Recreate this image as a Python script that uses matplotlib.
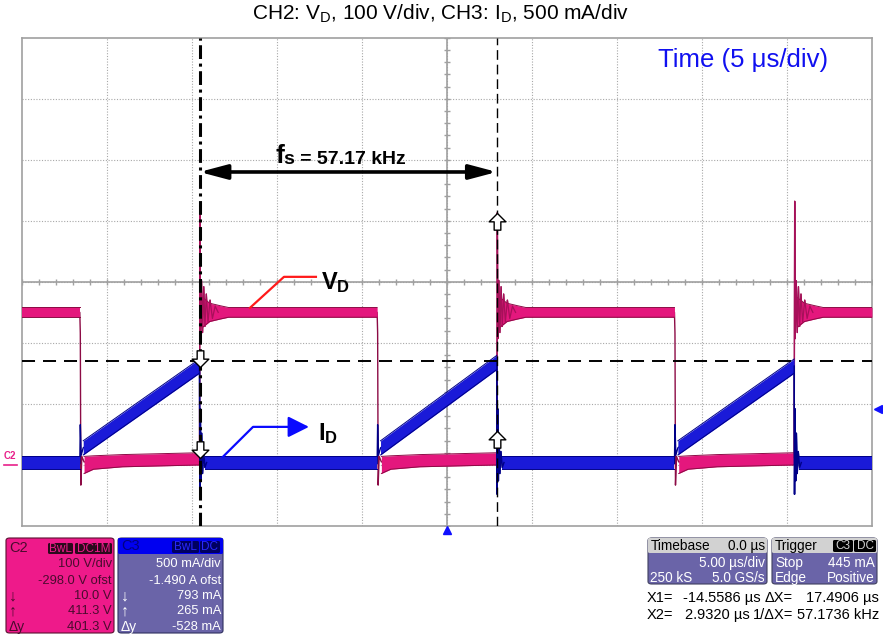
import numpy as np
import matplotlib.pyplot as plt
from matplotlib.patches import FancyBboxPatch
from matplotlib.path import Path
import matplotlib.transforms as mtransforms

plt.rcParams['font.family'] = ['Liberation Sans', 'DejaVu Sans']
plt.rcParams['mathtext.fontset'] = 'custom'
plt.rcParams['mathtext.rm'] = 'Liberation Sans'
plt.rcParams['mathtext.bf'] = 'Liberation Sans:bold'
plt.rcParams['mathtext.it'] = 'Liberation Sans:italic'

W, H = 883, 636

# scope settings
t_div = 5.0                      # us/div
vd_div, vd_ofst = 100.0, -298.0  # V/div, V
id_div, id_ofst = 0.5, -1.490    # A/div, A

# switching instants (us)
t_on = [-21.60, -4.11, 13.38]          # VD falls, ID ramp starts
t_off = [-14.5586, 2.9320, 20.4226]    # VD rises, ID drops
x1, x2 = -14.5586, 2.9320              # cursors

# drain voltage VD (V)
vd_high = 248.0
vd_hw = 8.0
vd_spike = [411.3, 411.3, 430.0]
vd_ring_dt = [0.06, 0.12, 0.18, 0.25, 0.32, 0.40, 0.50, 0.62, 0.76, 0.92, 1.10]
vd_ring_v = [205, 300, 215, 290, 225, 278, 232, 268, 238, 258, 248]
vd_env_dt = [0.2, 0.6, 1.2, 1.7]
vd_env_hw = [24.0, 15.0, 11.0, 8.0]
vd_fall_dt = [0.0, 0.03, 0.06, 0.12, 0.25]
vd_fall_v = [248.0, 214.0, -35.0, 12.0, 3.0]
vd_low_dt = [0.25, 0.8, 2.5, 7.04]
vd_low_hi = [12.0, 13.0, 15.0, 18.0]
vd_low_lo = [-16.0, -9.0, -5.0, -2.0]
vd_low_end = 10.0

# drain current ID (A)
id_zero = 0.01
id_hw = 0.05
id_ramp_hw = 0.058
id_ramp_start = 0.13
id_ramp_end = [0.80, 0.83, 0.80]
id_rise_dt = [0.0, 0.03, 0.08, 0.20]
id_rise_v = [0.0, 0.32, 0.07, 0.13]
id_ring_dt = [0.02, 0.05, 0.09, 0.13, 0.18, 0.24, 0.32, 0.42]
id_ring_v = [-0.25, 0.45, -0.14, 0.25, -0.08, 0.10, -0.03, 0.01]

# cursor readouts / levels
x1_vd, x2_vd = 10.0, 411.3
x1_id, x2_id = 0.793, 0.265
trig_level = 0.445
guide_id = 0.84

pink, maroon = '#E4177D', '#8C0B45'
blue, navy = '#1A1AD8', '#000088'

fig = plt.figure(figsize=(W / 100, H / 100), dpi=100)
ax = fig.add_axes([22 / W, 1 - 526 / H, 850 / W, 488.3 / H])
ax.set_xlim(-5 * t_div, 5 * t_div)
ax.set_ylim(-vd_ofst - 4 * vd_div, -vd_ofst + 4 * vd_div)
ax2 = ax.twinx()
ax2.set_ylim(-id_ofst - 4 * id_div, -id_ofst + 4 * id_div)
for a in (ax, ax2):
    a.set_xticks([])
    a.set_yticks([])
for s in ax.spines.values():
    s.set_color('#A0A0A0')
    s.set_linewidth(1.2)
for s in ax2.spines.values():
    s.set_visible(False)

# graticule
gx = np.arange(-5, 6) * t_div
gy = -vd_ofst + np.arange(-4, 5) * vd_div
ax.vlines(gx[1:-1], *ax.get_ylim(), colors='#A8A8A8', lw=0.8, ls=(0, (1, 1.5)), zorder=1)
ax.hlines(gy[1:-1], *ax.get_xlim(), colors='#A8A8A8', lw=0.8, ls=(0, (1, 1.5)), zorder=1)
ax.axvline(0, color='#A0A0A0', lw=1.2, zorder=1)
ax.axhline(-vd_ofst, color='#A0A0A0', lw=1.2, zorder=1)
tm = np.arange(-25, 26, 1.0)
ax.plot(tm, np.full(tm.size, -vd_ofst), ls='none', marker='|', ms=5, color='#A0A0A0', zorder=1)
vm = -vd_ofst + np.arange(-20, 21) * vd_div / 5
ax.plot(np.zeros(vm.size), vm, ls='none', marker='_', ms=5, color='#A0A0A0', zorder=1)


def band(a, t, lo, hi, face, edge):
    a.fill_between(t, lo, hi, color=face, lw=0, zorder=3)
    a.plot(t, lo, color=edge, lw=0.7, zorder=3)
    a.plot(t, hi, color=edge, lw=0.7, zorder=3)


# ---- VD ----
vd_t, vd_v = [-25.0], [vd_high]
for i in range(3):
    vd_t += [t_on[i] + d for d in vd_fall_dt]
    vd_v += vd_fall_v
    vd_t += [t_off[i], t_off[i] + 0.03]
    vd_v += [vd_low_end, vd_spike[i]]
    vd_t += [t_off[i] + d for d in vd_ring_dt]
    vd_v += vd_ring_v
vd_t.append(25.0)
vd_v.append(vd_high)
ax.plot(vd_t, vd_v, color=maroon, lw=1.0, zorder=2)

band(ax, [-25.0, t_on[0]], [vd_high - vd_hw] * 2, [vd_high + vd_hw] * 2, pink, maroon)
for i in range(3):
    nxt = t_on[i + 1] if i + 1 < len(t_on) else 25.0
    tt = [t_off[i] + d for d in vd_env_dt] + [nxt]
    hw = np.array(vd_env_hw + [vd_hw])
    band(ax, tt, vd_high - hw, vd_high + hw, pink, maroon)
    band(ax, [t_on[i] + d for d in vd_low_dt], vd_low_lo, vd_low_hi, pink, maroon)
    rt = [t_off[i], t_off[i] + 0.03] + [t_off[i] + d for d in vd_ring_dt]
    rv = [vd_low_end, vd_spike[i]] + vd_ring_v
    ax.plot(rt, rv, color='#A8105A', lw=0.9, zorder=4)

# ---- ID ----
id_t, id_v = [-25.0], [id_zero]
for i in range(3):
    id_t += [t_on[i] + d for d in id_rise_dt]
    id_v += id_rise_v
    id_t += [t_off[i]]
    id_v += [id_ramp_end[i]]
    id_t += [t_off[i] + d for d in id_ring_dt]
    id_v += id_ring_v
id_t.append(25.0)
id_v.append(id_zero)
ax2.plot(id_t, id_v, color=navy, lw=1.0, zorder=2)

band(ax2, [-25.0, t_on[0]], [id_zero - id_hw] * 2, [id_zero + id_hw] * 2, blue, navy)
for i in range(3):
    nxt = t_on[i + 1] if i + 1 < len(t_on) else 25.0
    band(ax2, [t_off[i] + 0.3, nxt], [id_zero - id_hw] * 2, [id_zero + id_hw] * 2, blue, navy)
    ramp = np.array([id_ramp_start, id_ramp_end[i]])
    band(ax2, [t_on[i] + 0.2, t_off[i]], ramp - id_ramp_hw, ramp + id_ramp_hw, blue, navy)
    ax2.plot([t_off[i]] + [t_off[i] + d for d in id_ring_dt], [id_ramp_end[i]] + id_ring_v,
             color=navy, lw=1.0, zorder=4)

# ---- cursors and guides ----
ax2.axvline(x1, color='k', lw=2.2, ls=(0, (4.5, 1.5, 1, 1.5)), zorder=5)
ax2.axvline(x2, color='k', lw=1.0, ls=(0, (7, 3.5)), zorder=5)
ax2.axhline(guide_id, color='k', lw=1.4, ls=(0, (6.7, 4.1)), zorder=5)

down = Path([(0, 0), (0.5, 0.5), (0.2, 0.5), (0.2, 1.0), (-0.2, 1.0), (-0.2, 0.5), (-0.5, 0.5), (0, 0)],
            closed=True)
up = Path([(x, -y) for x, y in down.vertices], closed=True)
mk = dict(ls='none', ms=24, mfc='white', mec='black', mew=1.0, zorder=6)
ax2.plot([x1], [x1_vd], marker=down, transform=ax.transData, **mk)
ax2.plot([x1], [x1_id], marker=down, **mk)
ax2.plot([x2], [x2_vd], marker=up, transform=ax.transData, **mk)
ax2.plot([x2], [x2_id], marker=up, **mk)

# switching frequency arrow
ax2.annotate('', xy=(x2, 478), xytext=(x1, 478), xycoords=ax.transData, textcoords=ax.transData,
             arrowprops=dict(arrowstyle='<|-|>,head_length=0.83,head_width=0.22', lw=2.6, color='k',
                             mutation_scale=20, shrinkA=0, shrinkB=0), zorder=6)
ax2.text(-10.06, 493, 'f', transform=ax.transData, fontsize=19, fontweight='bold', ha='left', va='baseline')
ax2.text(-9.59, 491, 's = 57.17 kHz', transform=ax.transData, fontsize=14, fontweight='bold',
         ha='left', va='baseline')

# VD label
ax2.plot([-11.59, -9.59, -7.71], [255.4, 306.2, 306.2], color='#FF1A1A', lw=1.6, transform=ax.transData, zorder=6)
ax2.text(-7.4, 286.5, r'$\mathbf{V_D}$', transform=ax.transData, fontsize=17, ha='left', va='baseline')

# ID label
ax2.plot([-13.18, -11.41, -8.88], [0.057, 0.302, 0.302], color='#0A0AFF', lw=1.6, zorder=6)
ax2.annotate('', xy=(-8.12, 0.302), xytext=(-8.88, 0.302),
             arrowprops=dict(arrowstyle='-|>,head_length=0.8,head_width=0.4', color='#0A0AFF', lw=1.6,
                             mutation_scale=16, shrinkA=0, shrinkB=0), zorder=6)
ax2.text(-7.6, 0.196, r'$\mathbf{I_D}$', fontsize=17, ha='left', va='baseline')

# markers outside the grid
ax2.plot([1.007], [trig_level], marker='<', ms=6, color='#1010FF', ls='none', clip_on=False,
         transform=mtransforms.blended_transform_factory(ax2.transAxes, ax2.transData))
ax2.plot([0], [-0.008], marker='^', ms=6, color='#1010FF', ls='none', clip_on=False,
         transform=mtransforms.blended_transform_factory(ax2.transData, ax2.transAxes))
c2tr = mtransforms.blended_transform_factory(ax.transAxes, ax.transData)
ax.text(-0.014, 4, 'C2', transform=c2tr, fontsize=7, fontweight='bold', color='#E8208A',
        ha='center', va='bottom', clip_on=False)
ax.plot([-0.021, -0.006], [-2, -2], transform=c2tr, color='#E8208A', lw=1.2, clip_on=False)

# titles
fig.text(441 / W, 1 - 14 / H, r'CH2: V$_\mathrm{D}$, 100 V/div, CH3: I$_\mathrm{D}$, 500 mA/div',
         ha='center', va='center', fontsize=15)
fig.text(743 / W, 1 - 60 / H, 'Time (5 \u03bcs/div)', ha='center', va='center', fontsize=18.5, color='#1010F0')


# ---- info panels (pixel layout) ----
def fx(x):
    return x / W


def fy(y):
    return 1 - y / H


def box(x0, y0, x1_, y1_, face, edge='none', r=0.004):
    p = FancyBboxPatch((fx(x0), fy(y1_)), (x1_ - x0) / W, (y1_ - y0) / H,
                       boxstyle='round,pad=0,rounding_size=%g' % r, transform=fig.transFigure,
                       facecolor=face, edgecolor=edge, lw=0.8)
    fig.add_artist(p)


def txt(x, y, s, ha='left', color='k', size=9.3):
    fig.text(fx(x), fy(y), s, ha=ha, va='center', fontsize=size, color=color)


hot, dark = '#EE1A8A', '#4A0B2E'
purple = '#6A64A8'
box(6, 538, 114, 633, hot, '#5A1030')
txt(9, 548, 'C2', color=dark, size=10.5)
box(48, 543, 73, 554, '#2B0A1C', r=0.002)
box(75, 543, 112, 554, '#2B0A1C', r=0.002)
txt(60.5, 548.5, 'BwL', ha='center', color=hot, size=8.5)
txt(93.5, 548.5, 'DC1M', ha='center', color=hot, size=8.5)
c2_rows = ['100 V/div', '-298.0 V ofst', '10.0 V', '411.3 V', '401.3 V']
c3_rows = ['500 mA/div', '-1.490 A ofst', '793 mA', '265 mA', '-528 mA']
row_y = [564, 581, 596, 611, 627]
row_tag = ['', '', '\u2193', '\u2191', '\u0394y']
row_tag_size = [9.3, 9.3, 11.5, 11.5, 10]
for s, y, tag, ts in zip(c2_rows, row_y, row_tag, row_tag_size):
    txt(112, y, s, ha='right', color=dark)
    txt(9, y, tag, color=dark, size=ts)

box(118, 538, 223, 633, purple, '#303060')
box(118, 538, 223, 554, '#0000F0', r=0.002)
txt(121, 546, 'C3', color='#000080', size=10.5)
box(172, 541, 199, 553, '#000060', r=0.002)
box(200, 541, 220, 553, '#000060', r=0.002)
txt(185.5, 547, 'BwL', ha='center', color='#2828FF', size=8.5)
txt(210, 547, 'DC', ha='center', color='#2828FF', size=8.5)
for s, y, tag, ts in zip(c3_rows, row_y, row_tag, row_tag_size):
    txt(221, y, s, ha='right', color='white')
    txt(121, y, tag, color='white', size=ts)

box(648, 538, 767, 584, purple, '#404060')
box(648, 538, 767, 553, '#D2D2D2', r=0.002)
txt(651, 546, 'Timebase', size=9.8)
txt(765, 546, '0.0 \u00b5s', ha='right', size=9.8)
txt(765, 563, '5.00 \u00b5s/div', ha='right', color='white', size=9.8)
txt(650, 578, '250 kS', color='white', size=9.8)
txt(765, 578, '5.0 GS/s', ha='right', color='white', size=9.8)

box(772, 538, 877, 584, purple, '#404060')
box(772, 538, 877, 553, '#D2D2D2', r=0.002)
txt(775, 546, 'Trigger', size=9.8)
box(833, 540, 853, 552, 'black', r=0.002)
box(854, 540, 876, 552, 'black', r=0.002)
txt(843, 546, 'C3', ha='center', color='#D0D0D0', size=8.5)
txt(865, 546, 'DC', ha='center', color='#D0D0D0', size=8.5)
txt(775, 563, 'Stop', color='white', size=9.8)
txt(875, 563, '445 mA', ha='right', color='white', size=9.8)
txt(775, 578, 'Edge', color='white', size=9.8)
txt(875, 578, 'Positive', ha='right', color='white', size=9.8)

txt(647, 598, 'X1=', size=10.5)
txt(761, 598, '-14.5586 \u00b5s', ha='right', size=10.5)
txt(793, 598, '\u0394X=', ha='right', size=10.5)
txt(879, 598, '17.4906 \u00b5s', ha='right', size=10.5)
txt(647, 615, 'X2=', size=10.5)
txt(750, 615, '2.9320 \u00b5s', ha='right', size=10.5)
txt(793, 615, '1/\u0394X=', ha='right', size=10.5)
txt(879, 615, '57.1736 kHz', ha='right', size=10.5)

fig.savefig('out.png', dpi=100)
